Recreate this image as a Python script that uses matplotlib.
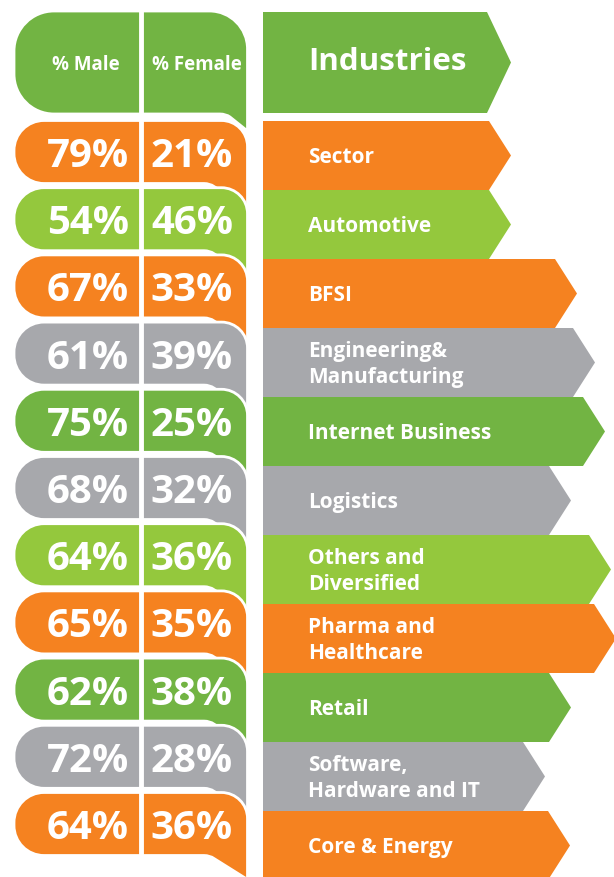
import matplotlib.pyplot as plt
from matplotlib.path import Path
from matplotlib.patches import PathPatch, Polygon

plt.rcParams['font.family'] = ['Open Sans', 'DejaVu Sans']

# data, top to bottom
industries = ['Sector', 'Automotive', 'BFSI', 'Engineering&\nManufacturing',
              'Internet Business', 'Logistics', 'Others and\nDiversified',
              'Pharma and\nHealthcare', 'Retail', 'Software,\nHardware and IT',
              'Core & Energy']
male = [79, 54, 67, 61, 75, 68, 64, 65, 62, 72, 64]
female = [21, 46, 33, 39, 25, 32, 36, 35, 38, 28, 36]
row_colour = ['orange', 'lime', 'orange', 'grey', 'green', 'grey', 'lime',
              'orange', 'green', 'grey', 'orange']

palette = {'orange': '#F58220', 'lime': '#94C83D', 'green': '#72B443',
           'grey': '#A7A8AC'}

# layout (pixels)
arrow_tip = [511, 511, 577, 595, 605, 571, 611, 616, 571, 545, 570]
bub_top0, bub_pitch, bub_h = 121.5, 67.2, 63
arr_top0, arr_pitch = 122, 69
X0, X1, DIV = 14, 247.5, 140.5
ARR_X0 = 263

K = 0.5523


def bubble(top, bot, rl, rr, tail_x, tail_dy):
    verts = [(X0 + rl, top), (X1 - rr, top),
             (X1 - rr + K * rr, top), (X1, top + rr - K * rr), (X1, top + rr),
             (X1, bot + tail_dy),
             (tail_x + 6, bot + 3),
             (tail_x + 2, bot), (tail_x - 4, bot),
             (X0 + rl, bot),
             (X0 + rl - K * rl, bot), (X0, bot - rl + K * rl), (X0, bot - rl),
             (X0, top + rl),
             (X0, top + rl - K * rl), (X0 + rl - K * rl, top), (X0 + rl, top),
             (X0 + rl, top)]
    codes = [Path.MOVETO, Path.LINETO,
             Path.CURVE4, Path.CURVE4, Path.CURVE4,
             Path.LINETO, Path.LINETO,
             Path.CURVE3, Path.CURVE3,
             Path.LINETO,
             Path.CURVE4, Path.CURVE4, Path.CURVE4,
             Path.LINETO,
             Path.CURVE4, Path.CURVE4, Path.CURVE4,
             Path.CLOSEPOLY]
    return Path(verts, codes)


def arrow(top, bot, tip, depth):
    mid = (top + bot) / 2
    return [(ARR_X0, top), (tip - depth, top), (tip, mid),
            (tip - depth, bot), (ARR_X0, bot)]


fig = plt.figure(figsize=(6.14, 8.78), dpi=100)
ax = fig.add_axes([0, 0, 1, 1])
ax.set_xlim(0, 614)
ax.set_ylim(878, 0)
ax.axis('off')

green = palette['green']

# header bubble and header arrow
ax.add_patch(PathPatch(bubble(12, 115, 40, 38, 224, 17), fc=green,
                       ec='white', lw=2, zorder=1))
ax.text(86, 65, '% Male', color='white', fontsize=13.5,
        fontweight='bold', ha='center', va='center', zorder=30)
ax.text(197, 65, '% Female', color='white', fontsize=13.5,
        fontweight='bold', ha='center', va='center', zorder=30)
ax.add_patch(Polygon(arrow(13, 114, 511, 24), fc=green, ec='none'))
ax.text(308, 62, 'Industries', color='white', fontsize=22.5,
        fontweight='bold', va='center')

for i, name in enumerate(industries):
    c = palette[row_colour[i]]
    top = bub_top0 + i * bub_pitch
    bot = top + bub_h
    ax.add_patch(PathPatch(bubble(top, bot, 30, 26, 208, 24), fc=c,
                           ec='white', lw=2, zorder=2 + i))
    mid = (top + bot) / 2 + 3.5
    ax.text(129, mid, f'{male[i]}%', color='white', fontsize=29,
            fontweight='bold', ha='right', va='center', zorder=30)
    ax.text(233, mid, f'{female[i]}%', color='white', fontsize=29,
            fontweight='bold', ha='right', va='center', zorder=30)

    atop = arr_top0 + i * arr_pitch
    abot = atop + arr_pitch
    ax.add_patch(Polygon(arrow(atop, abot, arrow_tip[i], 22), fc=c,
                         ec='none'))
    ax.text(308, (atop + abot) / 2 + 1, name, color='white', fontsize=15,
            fontweight='bold', va='center', linespacing=1.3)

# white divider between the two percentage columns
ax.plot([DIV, DIV], [10, bub_top0 + 10 * bub_pitch + bub_h + 2],
        color='white', lw=3.5, zorder=25, solid_capstyle='butt')

fig.savefig('out.png', dpi=100)
